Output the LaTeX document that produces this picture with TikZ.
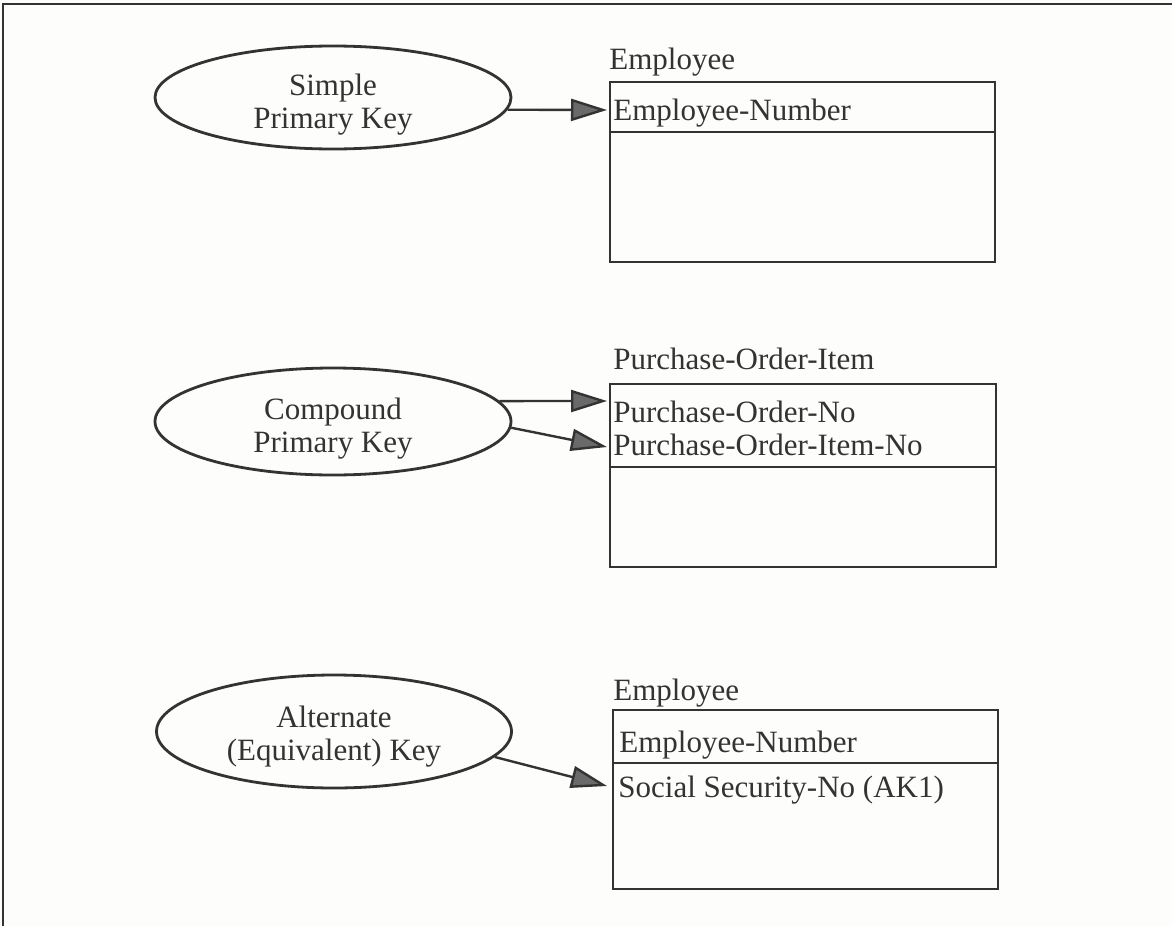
\documentclass[tikz,border=0pt]{standalone}
\usepackage{fontspec}
\setmainfont{Liberation Serif}
\usetikzlibrary{shapes.geometric,arrows.meta,calc}
\definecolor{ink}{HTML}{333333}
\definecolor{headfill}{HTML}{6A6A6A}
\definecolor{paper}{HTML}{FDFDFB}
\begin{document}
\begin{tikzpicture}[x=0.5pt,y=-0.5pt,
  txt/.style={font=\fontsize{15.5}{16.5}\selectfont, text=ink, inner sep=0pt},
  fieldtxt/.style={txt, anchor=base west},
  keyell/.style={ellipse, draw=ink, line width=1.4pt, inner sep=0pt},
  keytxt/.style={txt, align=center},
  entbox/.style={rectangle, draw=ink, line width=1.2pt, anchor=north west, inner sep=0pt},
  divider/.style={draw=ink, line width=1.2pt},
  conn/.style={draw=ink, line width=1.2pt, -{Triangle[length=18pt,width=11pt,fill=headfill]}},
  frameline/.style={draw=ink, line width=1pt}]
\fill[paper] (0,0) rectangle (1172,926);
\useasboundingbox (0,0) rectangle (1172,926);
% frame
\draw[frameline] (3,926) -- (3,4) -- (1172,4);

% ---------- Simple primary key ----------
\node[keyell, minimum width=178pt, minimum height=51.5pt] (e1) at (333,97.5) {};
\node[keytxt] (e1t) at (333,104.5) {Simple\\Primary Key};
\node[entbox, minimum width=192.5pt, minimum height=90pt] (b1) at (609,81) {};
\draw[divider] ($(b1.north west)+(0,51)$) -- ($(b1.north east)+(0,51)$);
\node[fieldtxt] (h1) at (609,69) {Employee};
\node[fieldtxt] (k1) at (613,120) {Employee-Number};
\coordinate (t1) at (607,110);
\draw[conn] (e1.-4) -- (t1);

% ---------- Compound primary key ----------
\node[keyell, minimum width=178pt, minimum height=53.5pt] (e2) at (333,421.5) {};
\node[keytxt] (e2t) at (333,428.5) {Compound\\Primary Key};
\node[entbox, minimum width=193pt, minimum height=91.5pt] (b2) at (609,383) {};
\draw[divider] ($(b2.north west)+(0,84)$) -- ($(b2.north east)+(0,84)$);
\node[fieldtxt] (h2) at (613,369) {Purchase-Order-Item};
\node[fieldtxt] (k2a) at (613,422) {Purchase-Order-No};
\node[fieldtxt] (k2b) at (613,455) {Purchase-Order-Item-No};
\coordinate (t2a) at (607,401);
\coordinate (t2b) at (607,447);
\draw[conn] (e2.7) -- (t2a);
\draw[conn] (e2.-2) -- (t2b);

% ---------- Alternate key ----------
\node[keyell, minimum width=177.5pt, minimum height=56.5pt] (e3) at (334,731.5) {};
\node[keytxt] (e3t) at (334,737) {Alternate\\(Equivalent) Key};
\node[entbox, minimum width=192.5pt, minimum height=89.5pt] (b3) at (612,709) {};
\draw[divider] ($(b3.north west)+(0,54)$) -- ($(b3.north east)+(0,54)$);
\node[fieldtxt] (h3) at (613,700) {Employee};
\node[fieldtxt] (k3) at (619,752) {Employee-Number};
\node[fieldtxt] (a3) at (618,797) {Social Security-No (AK1)};
\coordinate (t3) at (607,786);
\draw[conn] (e3.-9) -- (t3);
\end{tikzpicture}
\end{document}
